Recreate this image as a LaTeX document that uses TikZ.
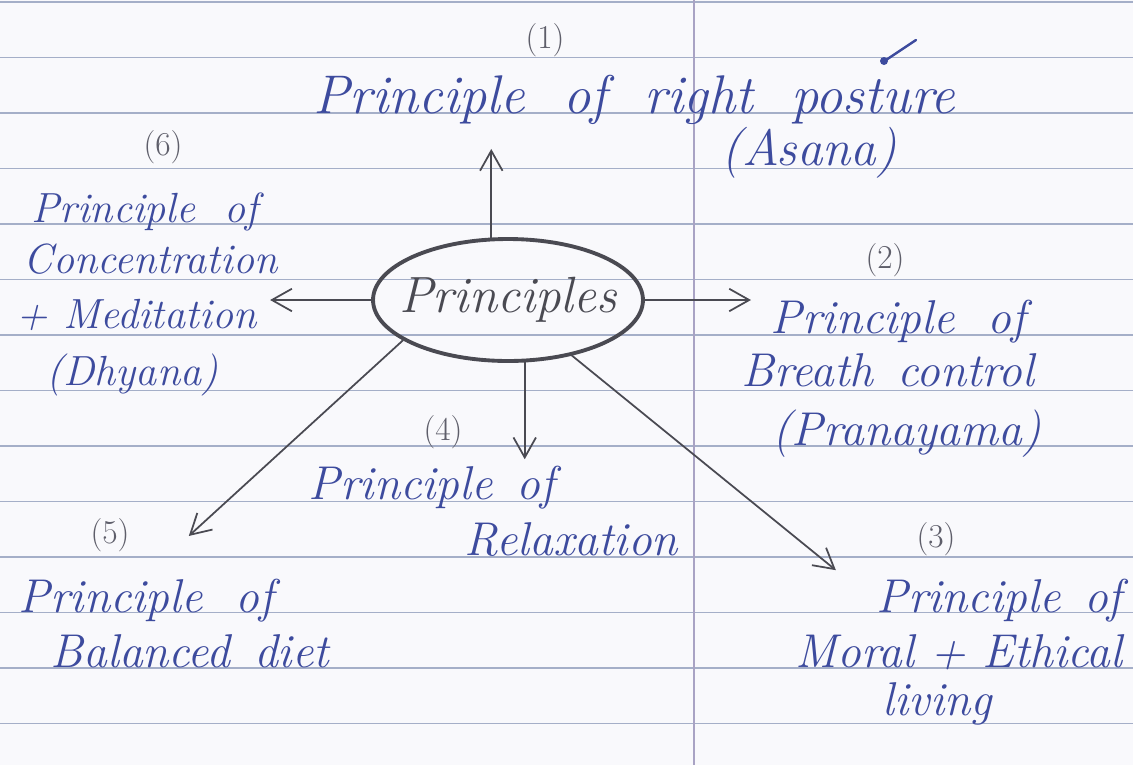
\documentclass[tikz,border=0pt]{standalone}
\usepackage{xcolor}
\usepackage{tikz}
\usetikzlibrary{positioning,arrows.meta,calc,shapes.geometric}
\definecolor{paper}  {HTML}{F9F9FC}
\definecolor{rulec}  {HTML}{A5AFC8}
\definecolor{margin} {HTML}{A9A3C4}
\definecolor{ink}    {HTML}{3D4B9E}
\definecolor{pencil} {HTML}{4A4A52}
\definecolor{lead}   {HTML}{5E5E6A}
\newcommand\handfont{\fontsize{27}{31}\selectfont\itshape}
\newcommand\smallhand{\fontsize{24}{28}\selectfont\itshape}
\newcommand\headfont{\fontsize{31}{35}\selectfont\itshape}
\newcommand\gap{\hspace{0.5em}}
\newcommand\wgap{\hspace{0.7em}}
\tikzset{
  rule/.style     = {draw=rulec, line width=1.1pt},
  hand/.style     = {font=\handfont, text=ink, inner sep=2pt},
  headline/.style = {font=\headfont, text=ink, inner sep=2pt},
  num/.style      = {font=\fontsize{19}{22}\selectfont, text=lead, inner sep=2pt},
  hub/.style      = {ellipse, draw=pencil, line width=2.2pt, text=pencil,
                     font=\fontsize{29}{32}\selectfont\itshape,
                     minimum width=5.4cm, minimum height=2.44cm,
                     inner xsep=-0.4cm, inner ysep=0pt},
  flow/.style     = {-{Straight Barb[length=4mm, width=4.5mm]}, draw=pencil,
                     line width=1pt},
}

\begin{document}
\begin{tikzpicture}[x=0.02cm, y=-0.02cm]
  \useasboundingbox (0,0) rectangle (1133,765);
  \fill[paper] (0,0) rectangle (1133,765);

  % ruled page
  \foreach \k in {0,...,13}
    \draw[rule] (0,{2+55.5*\k}) -- (1133,{2+55.5*\k});
  \draw[draw=margin, line width=1pt] (694,0) -- (694,765);

  % centre
  \node[hub] (hub) at (508,300) {Principles};

  % (1) top
  \node[num] (n1) at (545,40) {(1)};
  \node[headline, anchor=base west] (p1a) at (310,113) {Principle\wgap of\wgap right\wgap posture};
  \node[hand, font=\fontsize{29}{33}\selectfont\itshape, anchor=base west] (p1b) at (718,165) {(Asana)};
  \draw[ink, line width=1.4pt, line cap=round] (883,62) -- (916,40);
  \fill[ink] (884,61) circle (4);

  % (6) left
  \node[num] (n6) at (163,147) {(6)};
  \node[hand, font=\smallhand, anchor=base west] (c6a) at (28,222) {Principle\wgap of};
  \node[hand, font=\smallhand, anchor=base west] (c6b) at (20,273) {Concentration};
  \node[hand, font=\smallhand, anchor=base west] (c6c) at (13,328) {+ Meditation};
  \node[hand, font=\smallhand, anchor=base west] (c6d) at (43,385) {(Dhyana)};

  % (2) right
  \node[num] (n2) at (885,260) {(2)};
  \node[hand, anchor=base west] (p2a) at (767,333) {Principle\wgap of};
  \node[hand, anchor=base west] (p2b) at (738,386) {Breath\gap control};
  \node[hand, anchor=base west] (p2c) at (769,445) {(Pranayama)};

  % (4) below
  \node[num] (n4) at (443,432) {(4)};
  \node[hand, anchor=base west] (p4a) at (305,499) {Principle\gap of};
  \node[hand, anchor=base west] (p4b) at (461,555) {Relaxation};

  % (5) lower left
  \node[num] (n5) at (110,535) {(5)};
  \node[hand, anchor=base west] (p5a) at (15,612) {Principle\wgap of};
  \node[hand, anchor=base west] (p5b) at (47,667) {Balanced\gap diet};

  % (3) lower right
  \node[num] (n3) at (936,539) {(3)};
  \node[hand, anchor=base east] (p3a) at (1126,612) {Principle\gap of};
  \node[hand, anchor=base east] (p3b) at (1126,667) {Moral + Ethical};
  \node[hand, anchor=base west] (p3c) at (879,715) {living};

  % arrows
  \draw[flow, shorten >=4.2mm] (hub.105) -- (hub.105 |- p1a.south);
  \draw[flow, shorten >=3.2mm] (hub.east) -- (hub.east -| p2a.west);
  \draw[flow, shorten >=2mm] (hub.west) -- (hub.west -| c6c.east);
  \draw[flow, shorten >=0.5mm] (hub.-75) -- (hub.-75 |- p4a.north);
  \draw[flow, shorten >=11.5mm] (hub.201) -- (p5a.north);
  \draw[flow, shorten >=9.5mm] (hub.-41) -- (p3a.west);
\end{tikzpicture}
\end{document}
